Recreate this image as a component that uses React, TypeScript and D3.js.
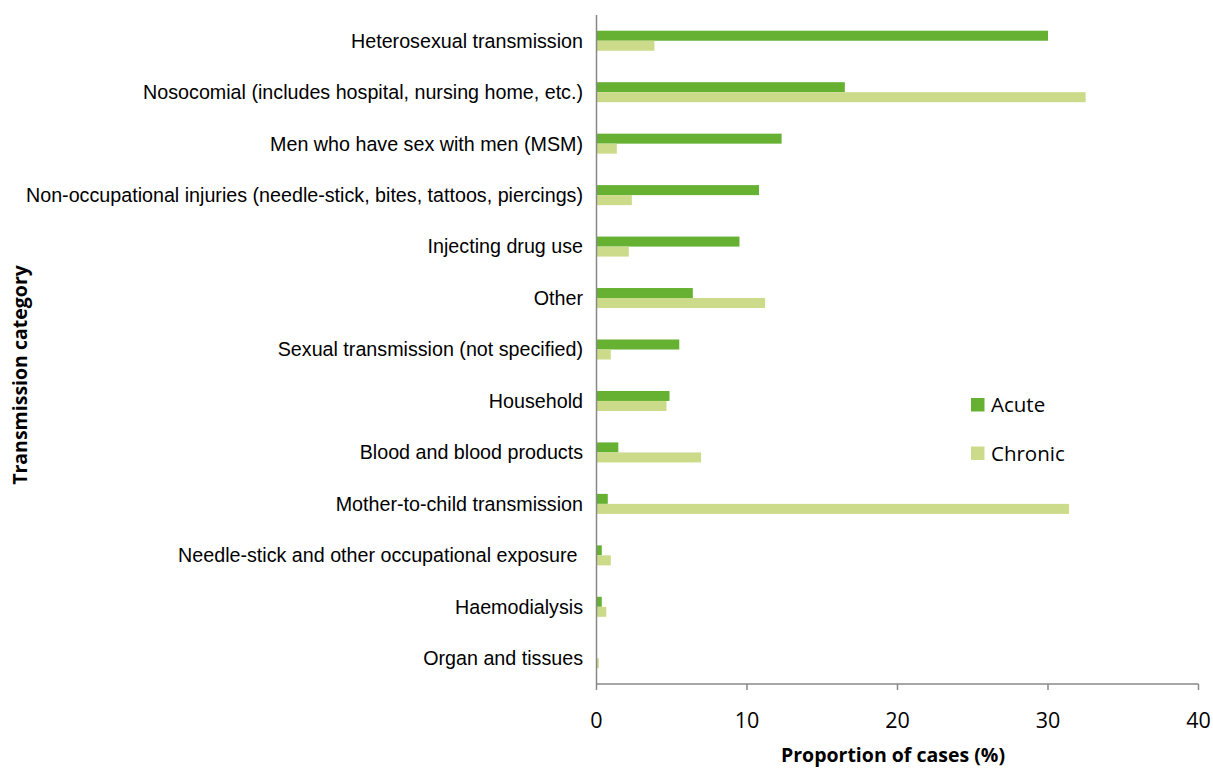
import React from "react";
import * as d3 from "d3";

const categories = [
  "Heterosexual transmission",
  "Nosocomial (includes hospital, nursing home, etc.)",
  "Men who have sex with men (MSM)",
  "Non-occupational injuries (needle-stick, bites, tattoos, piercings)",
  "Injecting drug use",
  "Other",
  "Sexual transmission (not specified)",
  "Household",
  "Blood and blood products",
  "Mother-to-child transmission",
  "Needle-stick and other occupational exposure ",
  "Haemodialysis",
  "Organ and tissues",
];
const acute = [30.0, 16.5, 12.3, 10.8, 9.5, 6.4, 5.5, 4.85, 1.45, 0.75, 0.35, 0.35, 0];
const chronic = [3.85, 32.5, 1.35, 2.35, 2.15, 11.2, 0.95, 4.65, 6.95, 31.4, 0.95, 0.65, 0.15];
const xTicks = [0, 10, 20, 30, 40];
const seriesNames = ["Acute", "Chronic"];

const W = 1213, H = 769;
const left = 596.5, right = 1198.5, top = 15, bottom = 684;
const colors = ["#66b132", "#cbdb89"];

export default function App() {
  const x = d3.scaleLinear().domain([0, 40]).range([left, right]);
  const y = d3.scaleBand<string>().domain(categories).range([top, bottom]).paddingInner(0).paddingOuter(0);
  const bw = y.bandwidth();
  const barH = 10;
  const textFont = "'Liberation Sans', Arial, sans-serif";
  const calFont = "'Open Sans', 'Noto Sans', sans-serif";
  return (
    <svg width={W} height={H} style={{ position: "absolute", left: 0, top: 0 }} viewBox={`0 0 ${W} ${H}`}>
      <rect width={W} height={H} fill="#fff" />
      {categories.map((c, i) => {
        const cy = (y(c) as number) + bw / 2;
        return (
          <g key={c}>
            <rect x={x(0)} y={cy - barH} width={x(acute[i]) - x(0)} height={barH} fill={colors[0]} />
            <rect x={x(0)} y={cy} width={x(chronic[i]) - x(0)} height={barH} fill={colors[1]} />
            <text
              x={583}
              y={cy}
              dy="0.35em"
              textAnchor="end"
              fontFamily={textFont}
              fontSize={19.7}
              fill="#000"
              style={{ whiteSpace: "pre" }}
            >
              {c}
            </text>
          </g>
        );
      })}
      <line x1={left} x2={left} y1={top} y2={bottom} stroke="#888" strokeWidth={1.5} />
      <line x1={left} x2={right} y1={bottom} y2={bottom} stroke="#888" strokeWidth={1.5} />
      {xTicks.map((t) => (
        <g key={t}>
          <line x1={x(t)} x2={x(t)} y1={bottom} y2={bottom + 6} stroke="#888" strokeWidth={1.5} />
          <text x={x(t)} y={728} textAnchor="middle" fontFamily={calFont} fontSize={21.5} fill="#000">
            {t}
          </text>
        </g>
      ))}
      <text x={893} y={762} textAnchor="middle" fontFamily={calFont} fontWeight="bold" fontSize={19.5} fill="#000">
        Proportion of cases (%)
      </text>
      <text
        transform={`translate(27, 375) rotate(-90)`}
        textAnchor="middle"
        fontFamily={calFont}
        fontWeight="bold"
        fontSize={19.5}
        fill="#000"
      >
        Transmission category
      </text>
      {seriesNames.map((s, i) => (
        <g key={s}>
          <rect x={971} y={398 + i * 48.5} width={13.5} height={13.5} fill={colors[i]} />
          <text x={991} y={405 + i * 48.5} dy="0.35em" fontFamily={calFont} fontSize={20.5} fill="#000">
            {s}
          </text>
        </g>
      ))}
    </svg>
  );
}
